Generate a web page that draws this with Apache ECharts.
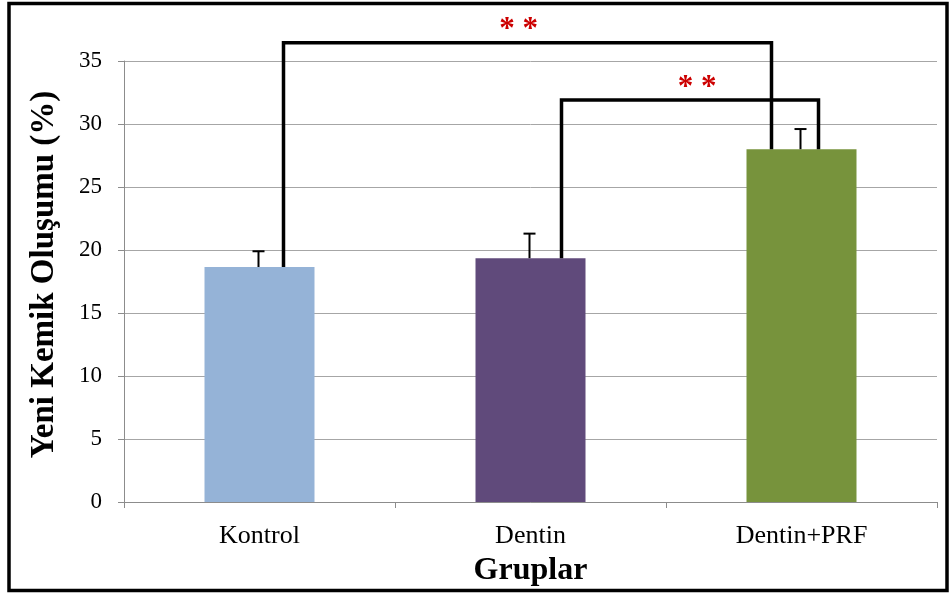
<!DOCTYPE html>
<html>
<head>
<meta charset="utf-8">
<script src="https://cdn.jsdelivr.net/npm/echarts@6/dist/echarts.min.js"></script>
<style>
  html, body { margin: 0; padding: 0; background: #fff; }
  #chart { width: 950px; height: 595px; }
</style>
</head>
<body>
<div id="chart"></div>
<script>
// Group names, mean new bone formation (%) and upper error bars
const categories = ['Kontrol', 'Dentin', 'Dentin+PRF'];
const means = [18.65, 19.35, 28.0];
const errorTops = [19.9, 21.3, 29.6];
const barColors = ['#95b3d7', '#604a7b', '#77933c'];
const yTicks = [0, 5, 10, 15, 20, 25, 30, 35];

// Significance brackets: from group, to group, height of the bridge, marker
const bracketFrom = [0, 1];
const bracketTo = [2, 2];
const bracketHeight = [36.45, 31.9];
const bracketMark = ['**', '**'];

// Horizontal pixel offsets of each bracket leg from the bar centre
const legOffsets = [[24, -30], [31, 17]];
const markOffsets = [-9, 7];

const chart = echarts.init(document.getElementById('chart'));

const serif = '"Liberation Serif", "DejaVu Serif", serif';

chart.setOption({
  animation: false,
  grid: { left: 124, right: 13, top: 61, bottom: 93 },
  xAxis: {
    type: 'category',
    data: categories,
    axisLine: { lineStyle: { color: '#8c8c8c', width: 1 } },
    axisTick: { show: true, length: 6, alignWithLabel: false, lineStyle: { color: '#8c8c8c' } },
    axisLabel: { color: '#000', fontFamily: serif, fontSize: 26, margin: 21 },
    name: 'Gruplar',
    nameLocation: 'middle',
    nameGap: 53,
    nameTextStyle: { color: '#000', fontFamily: serif, fontSize: 32, fontWeight: 'bold' }
  },
  yAxis: {
    type: 'value',
    min: 0,
    max: 35,
    interval: 5,
    axisLine: { show: true, lineStyle: { color: '#8c8c8c', width: 1 } },
    axisTick: { show: true, length: 6, lineStyle: { color: '#8c8c8c' } },
    axisLabel: {
      color: '#000', fontFamily: serif, fontSize: 23, margin: 22,
      formatter: v => yTicks.includes(v) ? String(v) : ''
    },
    splitLine: { lineStyle: { color: '#a6a6a6', width: 1 } },
    name: 'Yeni Kemik Oluşumu (%)',
    nameLocation: 'middle',
    nameGap: 63,
    nameTextStyle: { color: '#000', fontFamily: serif, fontSize: 33, fontWeight: 'bold', padding: [0, 0, 0, 14] }
  },
  series: [
    {
      type: 'bar',
      barWidth: 110,
      data: means.map((v, i) => ({ value: v, itemStyle: { color: barColors[i] } })),
      z: 2
    },
    {
      // error bars with a small cap
      type: 'custom',
      data: categories.map((c, i) => [i, means[i], errorTops[i]]),
      renderItem: (params, api) => {
        const base = api.coord([api.value(0), api.value(1)]);
        const top = api.coord([api.value(0), api.value(2)]);
        const x = base[0] - 1;
        return {
          type: 'group',
          children: [
            { type: 'line', shape: { x1: x, y1: base[1], x2: x, y2: top[1] },
              style: { stroke: '#000', lineWidth: 2 } },
            { type: 'line', shape: { x1: x - 6, y1: top[1], x2: x + 6, y2: top[1] },
              style: { stroke: '#000', lineWidth: 2 } }
          ]
        };
      },
      z: 3
    },
    {
      // significance brackets
      type: 'custom',
      clip: false,
      data: bracketFrom.map((f, i) => [f, means[f], bracketTo[i], means[bracketTo[i]], bracketHeight[i], i]),
      renderItem: (params, api) => {
        const idx = api.value(5);
        const a = api.coord([api.value(0), api.value(1)]);
        const b = api.coord([api.value(2), api.value(3)]);
        const topY = api.coord([api.value(0), api.value(4)])[1];
        const xa = a[0] + legOffsets[idx][0];
        const xb = b[0] + legOffsets[idx][1];
        const mid = (xa + xb) / 2 + markOffsets[idx];
        return {
          type: 'group',
          children: [
            { type: 'polyline',
              shape: { points: [[xa, a[1]], [xa, topY], [xb, topY], [xb, b[1]]] },
              style: { stroke: '#000', lineWidth: 3.5, fill: null, lineJoin: 'miter' } },
            { type: 'text',
              x: mid, y: topY + 3,
              style: { text: bracketMark[idx].split('').join(' '), fill: '#cc0000',
                       font: 'bold 31px ' + serif, align: 'center', verticalAlign: 'bottom' } }
          ]
        };
      },
      z: 4
    }
  ],
  graphic: [
    {
      type: 'rect',
      shape: { x: 9, y: 3.5, width: 938, height: 587 },
      style: { stroke: '#000', lineWidth: 3.5, fill: null },
      silent: true
    }
  ]
});
</script>
</body>
</html>
